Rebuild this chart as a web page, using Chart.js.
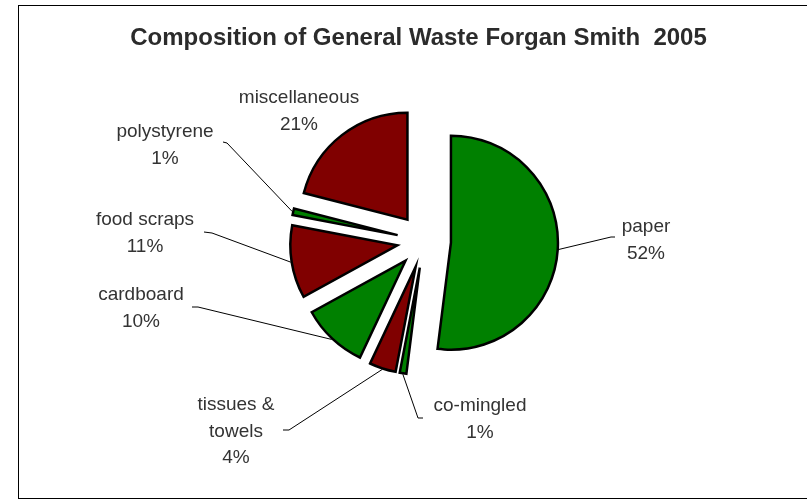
<!DOCTYPE html>
<html>
<head>
<meta charset="utf-8">
<script src="https://cdn.jsdelivr.net/npm/chart.js@4"></script>
<style>
  html, body { margin: 0; padding: 0; background: #fff; }
  #c { display: block; }
</style>
</head>
<body>
<canvas id="c" width="807" height="500"></canvas>
<script>
// ---- data ----
const categories = ['paper', 'co-mingled', 'tissues & towels', 'cardboard', 'food scraps', 'polystyrene', 'miscellaneous'];
const percentages = [52, 1, 4, 10, 11, 1, 21];
const chartTitle = 'Composition of General Waste Forgan Smith  2005';

// ---- styling / layout (not data) ----
const GREEN = '#008000', MAROON = '#800000';
const sliceColors = [GREEN, GREEN, MAROON, GREEN, MAROON, GREEN, MAROON];
const labelWrap = { 'tissues & towels': ['tissues &', 'towels'] };
const EXPLODE = 27; // pixel displacement of every slice along its mid-angle
// label anchor (center x, first baseline y) and leader line start/knee
const labelLayout = [
  { x: 646, y: 232, lead: [[615, 237], [611, 237]] },
  { x: 480, y: 411, lead: [[423, 418], [418, 418]] },
  { x: 236, y: 410, lead: [[283, 430], [289, 430]] },
  { x: 141, y: 300, lead: [[192, 307], [198, 307]] },
  { x: 145, y: 225, lead: [[204, 232], [212, 233]] },
  { x: 165, y: 137, lead: [[223, 142], [227, 143]] },
  { x: 299, y: 103, lead: null }
];
const LABEL_FONT = '19px "Liberation Sans", Arial, sans-serif';
const LINE_H = 26.5;

const TOTAL = percentages.reduce((a, b) => a + b, 0);

// Explode slices by a uniform distance (Chart.js' own 'offset' also enlarges some arcs).
const explode = {
  id: 'explode',
  afterDatasetUpdate(chart, args) {
    args.meta.data.forEach(arc => {
      const mid = (arc.startAngle + arc.endAngle) / 2;
      arc.x += Math.cos(mid) * EXPLODE;
      arc.y += Math.sin(mid) * EXPLODE;
    });
  }
};

const decor = {
  id: 'decor',
  beforeDraw(chart) {
    const ctx = chart.ctx;
    ctx.save();
    ctx.fillStyle = '#fff';
    ctx.fillRect(0, 0, chart.width, chart.height);
    ctx.strokeStyle = '#000';
    ctx.lineWidth = 1;
    ctx.strokeRect(18.5, 5.5, 820, 493);
    ctx.fillStyle = '#2b2b2b';
    ctx.font = 'bold 24px "Liberation Sans", Arial, sans-serif';
    ctx.textAlign = 'center';
    ctx.textBaseline = 'alphabetic';
    ctx.fillText(chartTitle, 418.5, 45);
    ctx.restore();
  },
  afterDatasetsDraw(chart) {
    const ctx = chart.ctx;
    const meta = chart.getDatasetMeta(0);
    ctx.save();
    meta.data.forEach((arc, i) => {
      const L = labelLayout[i];
      const mid = (arc.startAngle + arc.endAngle) / 2;
      const ex = arc.x + Math.cos(mid) * (arc.outerRadius + 1);
      const ey = arc.y + Math.sin(mid) * (arc.outerRadius + 1);
      if (L.lead) {
        ctx.beginPath();
        ctx.strokeStyle = '#000';
        ctx.lineWidth = 1;
        ctx.moveTo(L.lead[0][0], L.lead[0][1]);
        ctx.lineTo(L.lead[1][0], L.lead[1][1]);
        ctx.lineTo(ex, ey);
        ctx.stroke();
      }
      const name = categories[i];
      const lines = (labelWrap[name] || [name]).concat([Math.round(percentages[i] / TOTAL * 100) + '%']);
      ctx.fillStyle = '#333';
      ctx.font = LABEL_FONT;
      ctx.textAlign = 'center';
      ctx.textBaseline = 'alphabetic';
      lines.forEach((t, k) => ctx.fillText(t, L.x, L.y + k * LINE_H));
    });
    ctx.restore();
  }
};

new Chart(document.getElementById('c'), {
  type: 'pie',
  data: {
    labels: categories,
    datasets: [{
      data: percentages,
      backgroundColor: sliceColors,
      borderColor: '#000',
      borderWidth: 2.5,
      borderJoinStyle: 'miter',
      offset: 0
    }]
  },
  options: {
    responsive: false,
    animation: false,
    radius: 107,
    layout: { padding: { left: 250, right: 209, top: 98, bottom: 116 } },
    plugins: {
      legend: { display: false },
      title: { display: false },
      tooltip: { enabled: false }
    }
  },
  plugins: [explode, decor]
});
</script>
</body>
</html>
